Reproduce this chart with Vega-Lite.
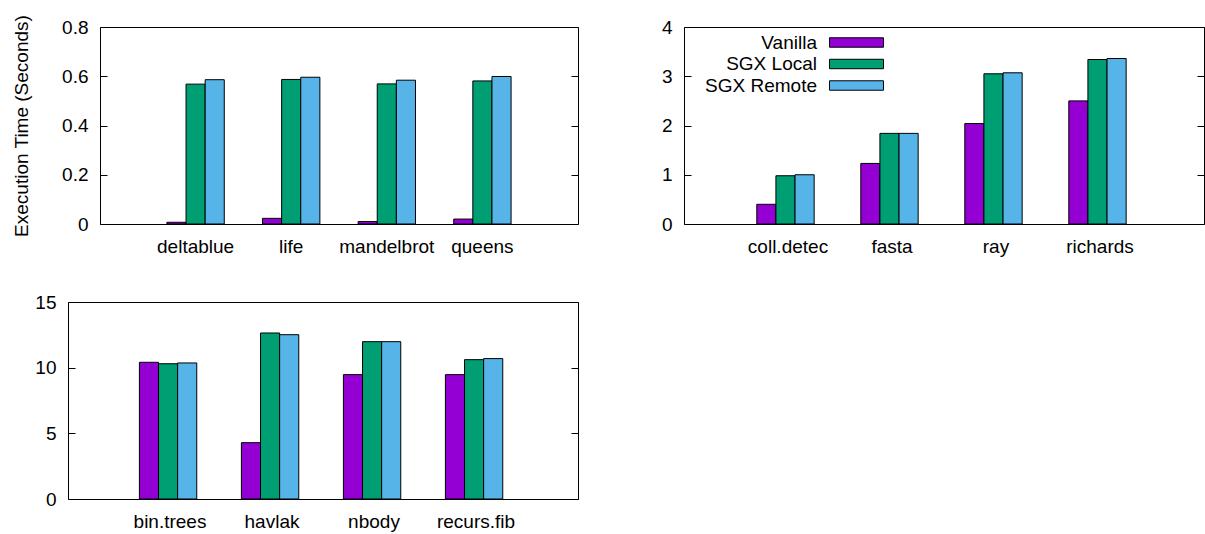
{
  "$schema": "https://vega.github.io/schema/vega-lite/v6.json",
  "background": "white",
  "padding": {"left": 12, "top": 13, "right": 0, "bottom": 0},
  "config": {
    "font": "Liberation Sans",
    "view": {"stroke": "black", "strokeWidth": 1},
    "axis": {
      "labelFont": "Liberation Sans", "labelFontSize": 19, "labelColor": "black",
      "titleFont": "Liberation Sans", "titleFontSize": 19, "titleFontWeight": "normal", "titleColor": "black",
      "grid": false, "domain": false, "tickColor": "black"
    },
    "legend": {"padding": 0}
  },
  "datasets": {
    "p1": [
      {"benchmark": "deltablue", "config": "Vanilla", "time": 0.007},
      {"benchmark": "deltablue", "config": "SGX Local", "time": 0.568},
      {"benchmark": "deltablue", "config": "SGX Remote", "time": 0.586},
      {"benchmark": "life", "config": "Vanilla", "time": 0.023},
      {"benchmark": "life", "config": "SGX Local", "time": 0.587},
      {"benchmark": "life", "config": "SGX Remote", "time": 0.596},
      {"benchmark": "mandelbrot", "config": "Vanilla", "time": 0.010},
      {"benchmark": "mandelbrot", "config": "SGX Local", "time": 0.569},
      {"benchmark": "mandelbrot", "config": "SGX Remote", "time": 0.584},
      {"benchmark": "queens", "config": "Vanilla", "time": 0.020},
      {"benchmark": "queens", "config": "SGX Local", "time": 0.581},
      {"benchmark": "queens", "config": "SGX Remote", "time": 0.599}
    ],
    "p2": [
      {"benchmark": "coll.detec", "config": "Vanilla", "time": 0.40},
      {"benchmark": "coll.detec", "config": "SGX Local", "time": 0.98},
      {"benchmark": "coll.detec", "config": "SGX Remote", "time": 1.0},
      {"benchmark": "fasta", "config": "Vanilla", "time": 1.23},
      {"benchmark": "fasta", "config": "SGX Local", "time": 1.84},
      {"benchmark": "fasta", "config": "SGX Remote", "time": 1.84},
      {"benchmark": "ray", "config": "Vanilla", "time": 2.04},
      {"benchmark": "ray", "config": "SGX Local", "time": 3.05},
      {"benchmark": "ray", "config": "SGX Remote", "time": 3.07},
      {"benchmark": "richards", "config": "Vanilla", "time": 2.50},
      {"benchmark": "richards", "config": "SGX Local", "time": 3.34},
      {"benchmark": "richards", "config": "SGX Remote", "time": 3.36}
    ],
    "p3": [
      {"benchmark": "bin.trees", "config": "Vanilla", "time": 10.41},
      {"benchmark": "bin.trees", "config": "SGX Local", "time": 10.30},
      {"benchmark": "bin.trees", "config": "SGX Remote", "time": 10.36},
      {"benchmark": "havlak", "config": "Vanilla", "time": 4.29},
      {"benchmark": "havlak", "config": "SGX Local", "time": 12.64},
      {"benchmark": "havlak", "config": "SGX Remote", "time": 12.51},
      {"benchmark": "nbody", "config": "Vanilla", "time": 9.47},
      {"benchmark": "nbody", "config": "SGX Local", "time": 11.98},
      {"benchmark": "nbody", "config": "SGX Remote", "time": 11.98},
      {"benchmark": "recurs.fib", "config": "Vanilla", "time": 9.47},
      {"benchmark": "recurs.fib", "config": "SGX Local", "time": 10.61},
      {"benchmark": "recurs.fib", "config": "SGX Remote", "time": 10.69}
    ],
    "spacer": [{"v": 0}]
  },
  "spacing": 35,
  "resolve": {"scale": {"color": "independent"}, "legend": {"color": "independent"}},
  "vconcat": [
    {
      "hconcat": [
        {
          "hconcat": [
            {
              "width": 1, "height": 1,
              "data": {"name": "spacer"},
              "view": {"stroke": null},
              "mark": {"type": "point", "opacity": 0},
              "encoding": {}
            },
            {
              "width": 478, "height": 197,
              "data": {"name": "p1"},
              "layer": [
                {
                  "mark": {"type": "bar", "stroke": "black", "strokeWidth": 1},
                  "encoding": {
                    "x": {"field": "benchmark", "type": "nominal", "sort": null, "scale": {"paddingInner": 0.4, "paddingOuter": 0.7}, "axis": {"title": null, "labelAngle": 0, "ticks": false, "labelPadding": 13, "labelOverlap": false, "labelLimit": 300}},
                    "xOffset": {"field": "config", "type": "nominal", "sort": ["Vanilla", "SGX Local", "SGX Remote"], "scale": {"paddingInner": 0, "paddingOuter": 0}},
                    "y": {"field": "time", "type": "quantitative", "scale": {"domain": [0, 0.8], "nice": false}, "axis": {"title": "Execution Time (Seconds)", "values": [0, 0.2, 0.4, 0.6, 0.8], "format": "~g", "tickSize": -7, "labelPadding": 19, "titlePadding": 30}},
                    "color": {"field": "config", "type": "nominal", "scale": {"domain": ["Vanilla", "SGX Local", "SGX Remote"], "range": ["#9400d3", "#009e73", "#56b4e9"]}, "legend": null}
                  }
                },
                {
                  "mark": {"type": "bar", "opacity": 0},
                  "encoding": {
                    "x": {"field": "benchmark", "type": "nominal", "sort": null, "scale": {"paddingInner": 0.4, "paddingOuter": 0.7}, "axis": {"title": null, "labelAngle": 0, "ticks": false, "labelPadding": 13, "labelOverlap": false, "labelLimit": 300}},
                    "xOffset": {"field": "config", "type": "nominal", "sort": ["Vanilla", "SGX Local", "SGX Remote"], "scale": {"paddingInner": 0, "paddingOuter": 0}},
                    "y": {"field": "time", "type": "quantitative", "scale": {"domain": [0, 0.8], "nice": false}, "axis": {"orient": "right", "title": null, "labels": false, "values": [0, 0.2, 0.4, 0.6, 0.8], "tickSize": -7}}
                  }
                }
              ],
              "resolve": {"axis": {"y": "independent"}}
            }
          ],
          "spacing": 31,
          "bounds": "flush",
          "resolve": {"scale": {"color": "independent"}, "legend": {"color": "independent"}}
        },
        {
          "width": 520, "height": 197,
          "data": {"name": "p2"},
          "layer": [
            {
              "mark": {"type": "bar", "stroke": "black", "strokeWidth": 1},
              "encoding": {
                "x": {"field": "benchmark", "type": "nominal", "sort": null, "scale": {"paddingInner": 0.4, "paddingOuter": 0.7}, "axis": {"title": null, "labelAngle": 0, "ticks": false, "labelPadding": 13, "labelOverlap": false, "labelLimit": 300}},
                "xOffset": {"field": "config", "type": "nominal", "sort": ["Vanilla", "SGX Local", "SGX Remote"], "scale": {"paddingInner": 0, "paddingOuter": 0}},
                "y": {"field": "time", "type": "quantitative", "scale": {"domain": [0, 4], "nice": false}, "axis": {"title": null, "values": [0, 1, 2, 3, 4], "format": "d", "tickSize": -7, "labelPadding": 19}},
                "color": {"field": "config", "type": "nominal", "sort": ["Vanilla", "SGX Local", "SGX Remote"], "scale": {"domain": ["Vanilla", "SGX Local", "SGX Remote"], "range": ["#9400d3", "#009e73", "#56b4e9"]},
                  "legend": {"orient": "none", "legendX": 163, "legendY": 6, "title": null, "symbolType": "M-4,-0.7H4V0.7H-4Z", "symbolSize": 182, "symbolStrokeColor": "black", "symbolStrokeWidth": 1, "symbolOpacity": 1, "labelAlign": "right", "labelOffset": -49, "labelFont": "Liberation Sans", "labelFontSize": 19, "labelColor": "black", "rowPadding": 1.5, "labelLimit": 300}}
              }
            },
            {
              "mark": {"type": "bar", "opacity": 0},
              "encoding": {
                "x": {"field": "benchmark", "type": "nominal", "sort": null, "scale": {"paddingInner": 0.4, "paddingOuter": 0.7}, "axis": {"title": null, "labelAngle": 0, "ticks": false, "labelPadding": 13, "labelOverlap": false, "labelLimit": 300}},
                "xOffset": {"field": "config", "type": "nominal", "sort": ["Vanilla", "SGX Local", "SGX Remote"], "scale": {"paddingInner": 0, "paddingOuter": 0}},
                "y": {"field": "time", "type": "quantitative", "scale": {"domain": [0, 4], "nice": false}, "axis": {"orient": "right", "title": null, "labels": false, "values": [0, 1, 2, 3, 4], "tickSize": -7}}
              }
            }
          ],
          "resolve": {"axis": {"y": "independent"}}
        }
      ],
      "spacing": 81,
      "resolve": {"scale": {"color": "independent"}, "legend": {"color": "independent"}}
    },
    {
      "width": 510, "height": 197,
      "data": {"name": "p3"},
      "layer": [
        {
          "mark": {"type": "bar", "stroke": "black", "strokeWidth": 1},
          "encoding": {
            "x": {"field": "benchmark", "type": "nominal", "sort": null, "scale": {"paddingInner": 0.4, "paddingOuter": 0.7}, "axis": {"title": null, "labelAngle": 0, "ticks": false, "labelPadding": 13, "labelOverlap": false, "labelLimit": 300}},
            "xOffset": {"field": "config", "type": "nominal", "sort": ["Vanilla", "SGX Local", "SGX Remote"], "scale": {"paddingInner": 0, "paddingOuter": 0}},
            "y": {"field": "time", "type": "quantitative", "scale": {"domain": [0, 15], "nice": false}, "axis": {"title": null, "values": [0, 5, 10, 15], "format": "d", "tickSize": -7, "labelPadding": 19}},
            "color": {"field": "config", "type": "nominal", "scale": {"domain": ["Vanilla", "SGX Local", "SGX Remote"], "range": ["#9400d3", "#009e73", "#56b4e9"]}, "legend": null}
          }
        },
        {
          "mark": {"type": "bar", "opacity": 0},
          "encoding": {
            "x": {"field": "benchmark", "type": "nominal", "sort": null, "scale": {"paddingInner": 0.4, "paddingOuter": 0.7}, "axis": {"title": null, "labelAngle": 0, "ticks": false, "labelPadding": 13, "labelOverlap": false, "labelLimit": 300}},
            "xOffset": {"field": "config", "type": "nominal", "sort": ["Vanilla", "SGX Local", "SGX Remote"], "scale": {"paddingInner": 0, "paddingOuter": 0}},
            "y": {"field": "time", "type": "quantitative", "scale": {"domain": [0, 15], "nice": false}, "axis": {"orient": "right", "title": null, "labels": false, "values": [0, 5, 10, 15], "tickSize": -7}}
          }
        }
      ],
      "resolve": {"axis": {"y": "independent"}}
    }
  ]
}
